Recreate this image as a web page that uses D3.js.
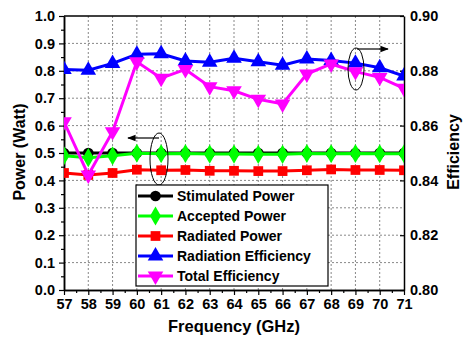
<!DOCTYPE html>
<html><head><meta charset="utf-8">
<script src="https://cdn.jsdelivr.net/npm/d3@7"></script>
<style>body{margin:0;background:#fff}svg{display:block}text{font-family:Arial,"Liberation Sans",sans-serif;font-weight:bold}</style>
</head><body><svg id="c" width="465" height="339"></svg>
<script>
const freq = [57,58,59,60,61,62,63,64,65,66,67,68,69,70,71];
const stimulated = [0.5,0.5,0.5,0.5,0.5,0.5,0.5,0.5,0.5,0.5,0.5,0.5,0.5,0.5,0.5];
const accepted = [0.49,0.483,0.49,0.499,0.497,0.498,0.496,0.496,0.495,0.495,0.498,0.497,0.498,0.497,0.497];
const radiated = [0.427,0.42,0.427,0.439,0.437,0.438,0.435,0.435,0.434,0.434,0.437,0.44,0.438,0.438,0.437];
const radEff = [0.8805,0.8802,0.8827,0.886,0.8862,0.8836,0.8831,0.8846,0.8833,0.882,0.8843,0.8838,0.8828,0.8811,0.8781];
const totEff = [0.8614,0.842,0.8578,0.8833,0.8773,0.8805,0.8742,0.8727,0.8696,0.8679,0.8788,0.8825,0.8797,0.8776,0.8736];
const leftTicks = [0,0.1,0.2,0.3,0.4,0.5,0.6,0.7,0.8,0.9,1.0];
const rightTicks = [0.80,0.82,0.84,0.86,0.88,0.90];
const seriesNames = ["Stimulated Power","Accepted Power","Radiated Power","Radiation Efficiency","Total Efficiency"];

const svg = d3.select("#c");
const L=64,R=404,T=16,B=290;
const x = d3.scaleLinear().domain([57,71]).range([L,R]);
const yL = d3.scaleLinear().domain([0,1]).range([B,T]);
const yR = d3.scaleLinear().domain([0.8,0.9]).range([B,T]);

// grid
const g = svg.append("g");
freq.slice(1,-1).forEach(f=>g.append("line").attr("x1",x(f)).attr("x2",x(f)).attr("y1",T).attr("y2",B)
  .attr("stroke","#888").attr("stroke-width",1).attr("stroke-dasharray","2,2"));
leftTicks.slice(1,-1).forEach(v=>g.append("line").attr("x1",L).attr("x2",R).attr("y1",yL(v)).attr("y2",yL(v))
  .attr("stroke","#888").attr("stroke-width",1).attr("stroke-dasharray","2,2"));

// axes
svg.append("g").attr("transform",`translate(0,${B})`)
  .call(d3.axisBottom(x).tickValues(freq).tickFormat(d3.format("d")).tickSizeInner(5).tickSizeOuter(0).tickPadding(4));
svg.append("g").attr("transform",`translate(0,${B})`)
  .call(d3.axisBottom(x).tickValues(d3.range(57.5,71,1)).tickFormat("").tickSizeInner(3).tickSizeOuter(0));
svg.append("g").attr("transform",`translate(${L},0)`)
  .call(d3.axisLeft(yL).tickValues(leftTicks).tickFormat(d3.format(".1f")).tickSizeInner(5).tickSizeOuter(0).tickPadding(4));
svg.append("g").attr("transform",`translate(${L},0)`)
  .call(d3.axisLeft(yL).tickValues(d3.range(0.05,1,0.1)).tickFormat("").tickSizeInner(3).tickSizeOuter(0));
svg.append("g").attr("transform",`translate(${R},0)`)
  .call(d3.axisRight(yR).tickValues(rightTicks).tickFormat(d3.format(".2f")).tickSizeInner(-4).tickSizeOuter(0).tickPadding(6));
svg.selectAll(".domain").attr("stroke","#000").attr("stroke-width",1.5);
svg.selectAll(".tick line").attr("stroke","#000").attr("stroke-width",1.2);
svg.selectAll(".tick text").attr("font-size",14.5).attr("fill","#000").attr("font-family","Arial, 'Liberation Sans', sans-serif").attr("font-weight","bold");
svg.append("line").attr("x1",L).attr("x2",R).attr("y1",T).attr("y2",T).attr("stroke","#000").attr("stroke-width",1.5);

// titles
svg.append("text").attr("x",234).attr("y",332).attr("text-anchor","middle").attr("font-size",16.5).text("Frequency (GHz)");
svg.append("text").attr("transform","translate(25,152) rotate(-90)").attr("text-anchor","middle").attr("font-size",16).text("Power (Watt)");
svg.append("text").attr("transform","translate(459,152) rotate(-90)").attr("text-anchor","middle").attr("font-size",16).text("Efficiency");

// data
svg.append("clipPath").attr("id","clip").append("rect").attr("x",L).attr("y",T).attr("width",R-L).attr("height",B-T);
const plot = svg.append("g").attr("clip-path","url(#clip)");
const sym = {
  circle: d3.symbol().type(d3.symbolCircle).size(90),
  diamond: d3.symbol().type(d3.symbolDiamond).size(105),
  square: d3.symbol().type(d3.symbolSquare).size(95),
  tri: d3.symbol().type(d3.symbolTriangle).size(105)
};
const series = [
  {vals:stimulated, y:yL, color:"#000000", s:"circle", rot:0},
  {vals:accepted, y:yL, color:"#00ff00", s:"diamond", rot:0},
  {vals:radiated, y:yL, color:"#ff0000", s:"square", rot:0},
  {vals:radEff, y:yR, color:"#0000ff", s:"tri", rot:0},
  {vals:totEff, y:yR, color:"#ff00ff", s:"tri", rot:180}
];
series.forEach(se=>{
  const line = d3.line().x((d,i)=>x(freq[i])).y(d=>se.y(d));
  plot.append("path").datum(se.vals).attr("d",line).attr("fill","none").attr("stroke",se.color).attr("stroke-width",3);
  plot.selectAll(null).data(se.vals).enter().append("path").attr("d",sym[se.s])
    .attr("transform",(d,i)=>`translate(${x(freq[i])},${se.y(d)}) rotate(${se.rot})`).attr("fill",se.color);
});

// annotations
svg.append("defs").append("marker").attr("id","ah").attr("viewBox","0 0 10 10").attr("refX",9).attr("refY",5)
  .attr("markerWidth",7).attr("markerHeight",7).attr("orient","auto").append("path").attr("d","M0,1L10,5L0,9z").attr("fill","#000");
svg.append("ellipse").attr("cx",159).attr("cy",159).attr("rx",9).attr("ry",26).attr("fill","none").attr("stroke","#000").attr("stroke-width",1);
svg.append("line").attr("x1",159).attr("y1",138).attr("x2",128).attr("y2",138).attr("stroke","#000").attr("stroke-width",1.2).attr("marker-end","url(#ah)");
svg.append("ellipse").attr("cx",356).attr("cy",69).attr("rx",8).attr("ry",21).attr("fill","none").attr("stroke","#000").attr("stroke-width",1);
svg.append("line").attr("x1",357).attr("y1",49).attr("x2",388).attr("y2",49).attr("stroke","#000").attr("stroke-width",1.2).attr("marker-end","url(#ah)");

// legend
const lg = svg.append("g");
lg.append("rect").attr("x",136).attr("y",185).attr("width",192).attr("height",101).attr("fill","#fff").attr("stroke","#000").attr("stroke-width",1.2);
series.forEach((se,i)=>{
  const yy = 196 + i*20;
  lg.append("line").attr("x1",138).attr("x2",173).attr("y1",yy).attr("y2",yy).attr("stroke",se.color).attr("stroke-width",3);
  lg.append("path").attr("d",sym[se.s]).attr("transform",`translate(155.5,${yy}) rotate(${se.rot})`).attr("fill",se.color);
  lg.append("text").attr("x",177).attr("y",yy+5).attr("font-size",14).text(seriesNames[i]);
});
</script></body></html>
